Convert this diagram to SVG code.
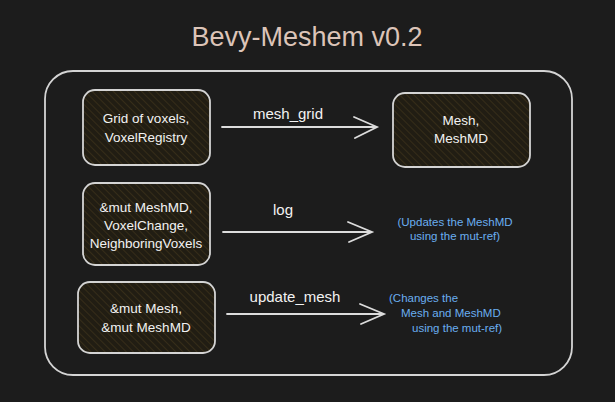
<svg xmlns="http://www.w3.org/2000/svg" width="615" height="402" viewBox="0 0 615 402">
<style>
.box{fill:url(#hatch);stroke:#d4d4d4;stroke-width:1.8}
.t{font-family:"Liberation Sans",Arial,sans-serif;font-size:13.5px;fill:#f2f2f2;text-anchor:middle}
.lbl{font-family:"Liberation Sans",Arial,sans-serif;font-size:15px;fill:#f2f2f2;text-anchor:middle}
.note{font-family:"Liberation Sans",Arial,sans-serif;font-size:11.5px;fill:#6aaef0}
.ln{stroke:#dcdcdc;stroke-width:1.8;fill:none;stroke-linecap:round}
</style>
<defs>
<pattern id="hatch" patternUnits="userSpaceOnUse" width="5" height="5" patternTransform="rotate(-45)">
<rect width="5" height="5" fill="#211d13"/>
<line x1="0" y1="0" x2="0" y2="5" stroke="#3b311a" stroke-width="1.6"/>
</pattern>
</defs>
<rect width="615" height="402" fill="#1c1c1c"/>
<text x="307" y="46" font-family="Liberation Sans,Arial,sans-serif" font-size="27" fill="#dcc4b8" text-anchor="middle">Bevy-Meshem v0.2</text>
<rect x="45" y="71" width="527" height="304" rx="28" fill="none" stroke="#d4d4d4" stroke-width="1.8"/>
<g id="node-grid">
<rect class="box" x="83" y="90" width="127" height="75" rx="12"/>
<text class="t" x="146" y="123">Grid of voxels,</text>
<text class="t" x="146" y="142">VoxelRegistry</text>
</g>
<g id="node-mesh">
<rect class="box" x="393" y="93" width="137" height="74" rx="12"/>
<text class="t" x="461" y="125">Mesh,</text>
<text class="t" x="461" y="143">MeshMD</text>
</g>
<g id="node-meshmd">
<rect class="box" x="83" y="183" width="127" height="82" rx="12"/>
<text class="t" x="146" y="212">&amp;mut MeshMD,</text>
<text class="t" x="146" y="230">VoxelChange,</text>
<text class="t" x="146" y="248">NeighboringVoxels</text>
</g>
<g id="node-mutmesh">
<rect class="box" x="78" y="282" width="137" height="71" rx="12"/>
<text class="t" x="146" y="313">&amp;mut Mesh,</text>
<text class="t" x="146" y="332">&amp;mut MeshMD</text>
</g>
<g id="connectors">
<path class="ln" d="M222 127 L377 127 M354 117 L377 127 L355 138"/>
<path class="ln" d="M223 232 L372 232 M348 222 L372 232 L349 242"/>
<path class="ln" d="M227 314 L384 314 M360 304 L384 314 L361 324"/>
<text class="lbl" x="288" y="119">mesh_grid</text>
<text class="lbl" x="283" y="215">log</text>
<text class="lbl" x="295" y="302">update_mesh</text>
</g>
<g id="notes">
<text class="note" x="455" y="226" text-anchor="middle">(Updates the MeshMD</text>
<text class="note" x="455" y="240" text-anchor="middle">using the mut-ref)</text>
<text class="note" x="389" y="302">(Changes the</text>
<text class="note" x="401" y="317">Mesh and MeshMD</text>
<text class="note" x="412" y="332">using the mut-ref)</text>
</g>
</svg>
